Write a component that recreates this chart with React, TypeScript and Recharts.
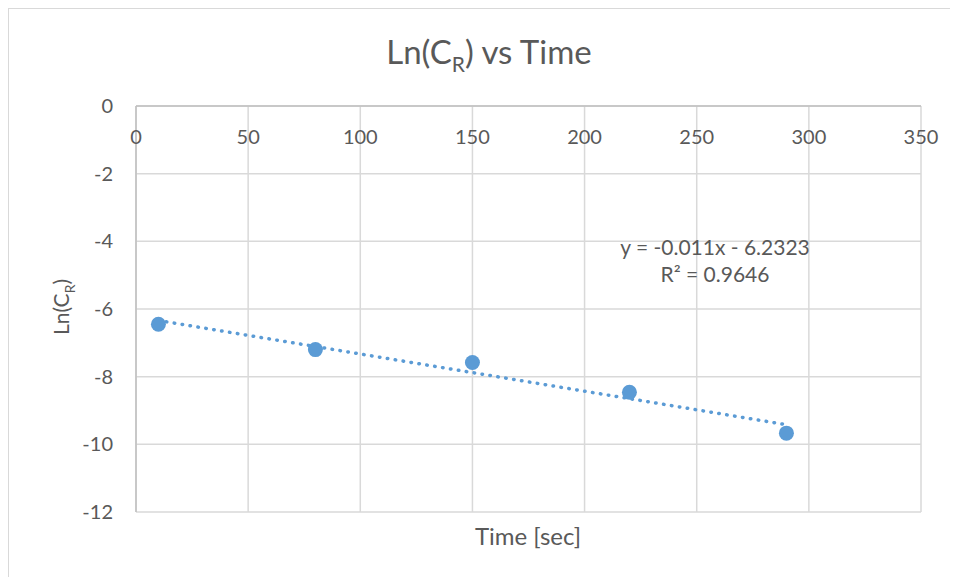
import { ScatterChart, Scatter, XAxis, YAxis, CartesianGrid } from 'recharts';

const times = [10, 80, 150, 220, 290];
const lnCr = [-6.45, -7.2, -7.58, -8.46, -9.67];

// trendline end points as shown on the chart (y = -0.011x - 6.2323)
const trendTimes = [10, 290];
const trendValues = [-6.34, -9.42];

const xTicks = [0, 50, 100, 150, 200, 250, 300, 350];
const yTicks = [0, -2, -4, -6, -8, -10, -12];

const points = times.map((t, i) => ({ x: t, y: lnCr[i] }));
const trend = trendTimes.map((t, i) => ({ x: t, y: trendValues[i] }));

const FONT = 'Lato, "Open Sans", sans-serif';
const TEXT = '#595959';
const BLUE = '#5b9bd5';

// x axis sits at y = 0 (top of plot), labels hang below the line
const TopTick = (props: any) => (
  <text x={props.x} y={135} textAnchor="middle" fill={TEXT} fontSize={20} fontFamily={FONT}>
    {props.payload.value}
  </text>
);

const Dot = (props: any) => <circle cx={props.cx} cy={props.cy} r={7.5} fill={BLUE} />;

export default function App() {
  return (
    <div
      style={{
        position: 'relative',
        width: 949,
        height: 568,
        borderTop: '1px solid #d9d9d9',
        borderLeft: '1px solid #d9d9d9',
        background: '#fff',
        fontFamily: FONT,
        color: TEXT,
        overflow: 'hidden',
      }}
    >
      <div
        style={{
          position: 'absolute',
          left: 480,
          top: 22,
          transform: 'translateX(-50%)',
          fontSize: 33,
          whiteSpace: 'nowrap',
          lineHeight: '40px',
        }}
      >
        Ln(C<sub style={{ fontSize: 21 }}>R</sub>) vs Time
      </div>
      <div
        style={{
          position: 'absolute',
          left: 54,
          top: 298,
          transform: 'translate(-50%, -50%) rotate(-90deg)',
          fontSize: 21,
          whiteSpace: 'nowrap',
        }}
      >
        Ln(C<sub style={{ fontSize: 14 }}>R</sub>)
      </div>
      <div
        style={{
          position: 'absolute',
          left: 519,
          top: 526,
          transform: 'translate(-50%, -50%)',
          fontSize: 24,
          whiteSpace: 'nowrap',
        }}
      >
        Time [sec]
      </div>
      <ScatterChart width={949} height={568} margin={{ top: 57, right: 37, bottom: 65, left: 67 }}>
        <CartesianGrid stroke="#d9d9d9" strokeWidth={1.5} />
        <XAxis
          type="number"
          dataKey="x"
          orientation="top"
          height={40}
          domain={[0, 350]}
          ticks={xTicks}
          tickLine={false}
          tickSize={0}
          tickMargin={0}
          axisLine={{ stroke: '#bfbfbf', strokeWidth: 1.5 }}
          tick={<TopTick />}
          interval={0}
        />
        <YAxis
          type="number"
          dataKey="y"
          width={60}
          domain={[-12, 0]}
          ticks={yTicks}
          tickLine={false}
          tickSize={0}
          tickMargin={23}
          axisLine={{ stroke: '#bfbfbf', strokeWidth: 1.5 }}
          tick={{ fill: TEXT, fontSize: 20, fontFamily: FONT }}
          interval={0}
        />
        <Scatter
          data={trend}
          isAnimationActive={false}
          line={{ stroke: BLUE, strokeWidth: 3.5, strokeDasharray: '0.5 7.5', strokeLinecap: 'round' }}
          shape={() => <g />}
        />
        <Scatter data={points} isAnimationActive={false} shape={<Dot />} />
      </ScatterChart>
      <div
        style={{
          position: 'absolute',
          left: 706,
          top: 224,
          transform: 'translateX(-50%)',
          fontSize: 21,
          lineHeight: '27px',
          textAlign: 'center',
          whiteSpace: 'nowrap',
        }}
      >
        y = -0.011x - 6.2323
        <br />
        R² = 0.9646
      </div>
    </div>
  );
}
